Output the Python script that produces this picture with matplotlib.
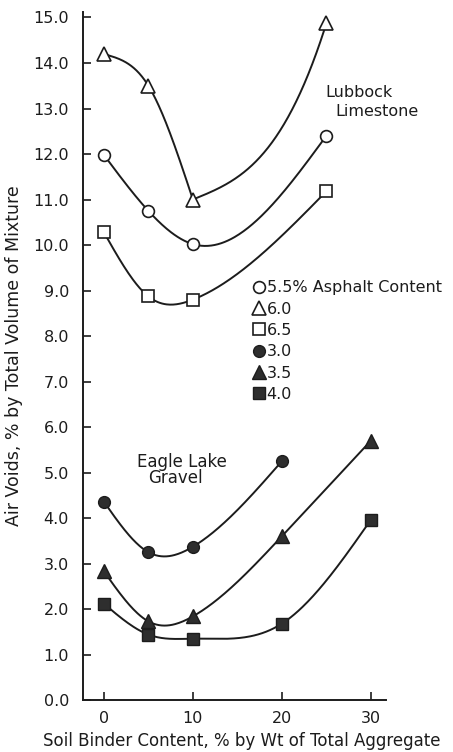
import numpy as np
import matplotlib
matplotlib.use("Agg")
import matplotlib.pyplot as plt

plt.rcParams["font.family"] = ["DejaVu Sans"]

# Soil binder content (% by weight of total aggregate)
lubbock_x = [0, 5, 10, 25]
eagle_x3 = [0, 5, 10, 20]
eagle_x = [0, 5, 10, 20, 30]

# Air voids (% by total volume of mixture)
lubbock_55 = [11.98, 10.75, 10.02, 12.4]
lubbock_60 = [14.2, 13.5, 11.0, 14.87]
lubbock_65 = [10.28, 8.87, 8.8, 11.18]
eagle_30 = [4.36, 3.25, 3.37, 5.25]
eagle_35 = [2.83, 1.73, 1.84, 3.6, 5.7]
eagle_40 = [2.12, 1.44, 1.35, 1.68, 3.96]

legend_labels = ["5.5% Asphalt Content", "6.0", "6.5", "3.0", "3.5", "4.0"]
x_ticks = [0, 10, 20, 30]
y_ticks = np.arange(0, 16, 1)

INK = "#1c1c1c"
FILL = "#2e2e2e"


def cubic_spline(xk, yk, d0=None, dn=None, num=200):
    """Natural (or end-clamped) cubic spline through the given points."""
    xk = np.asarray(xk, float)
    yk = np.asarray(yk, float)
    n = len(xk)
    h = np.diff(xk)
    A = np.zeros((n, n))
    r = np.zeros(n)
    for i in range(1, n - 1):
        A[i, i - 1] = h[i - 1]
        A[i, i] = 2 * (h[i - 1] + h[i])
        A[i, i + 1] = h[i]
        r[i] = 6 * ((yk[i + 1] - yk[i]) / h[i] - (yk[i] - yk[i - 1]) / h[i - 1])
    if d0 is None:
        A[0, 0] = 1.0
    else:
        A[0, 0] = 2 * h[0]
        A[0, 1] = h[0]
        r[0] = 6 * ((yk[1] - yk[0]) / h[0] - d0)
    if dn is None:
        A[-1, -1] = 1.0
    else:
        A[-1, -2] = h[-1]
        A[-1, -1] = 2 * h[-1]
        r[-1] = 6 * (dn - (yk[-1] - yk[-2]) / h[-1])
    M = np.linalg.solve(A, r)
    xs = np.linspace(xk[0], xk[-1], num)
    idx = np.clip(np.searchsorted(xk, xs) - 1, 0, n - 2)
    x0, x1 = xk[idx], xk[idx + 1]
    hh = x1 - x0
    ys = (M[idx] * (x1 - xs) ** 3 / (6 * hh)
          + M[idx + 1] * (xs - x0) ** 3 / (6 * hh)
          + (yk[idx] / hh - M[idx] * hh / 6) * (x1 - xs)
          + (yk[idx + 1] / hh - M[idx + 1] * hh / 6) * (xs - x0))
    return xs, ys


fig = plt.figure(figsize=(4.53, 7.52), dpi=100)
ax = fig.add_axes([0.183, 0.069, 0.669, 0.915])

line_kw = dict(color=INK, lw=1.4, zorder=2)

# Lubbock Limestone curves
ax.plot(*cubic_spline(lubbock_x, lubbock_55), **line_kw)
ax.plot(*cubic_spline(lubbock_x, lubbock_65), **line_kw)
# the 6.0% curve breaks at its minimum
ax.plot(*cubic_spline(lubbock_x[:3], lubbock_60[:3], d0=-0.06), **line_kw)
ax.plot(*cubic_spline(lubbock_x[2:], lubbock_60[2:], d0=0.08, dn=0.62), **line_kw)

# Eagle Lake Gravel curves
ax.plot(*cubic_spline(eagle_x3, eagle_30), **line_kw)
ax.plot(*cubic_spline(eagle_x, eagle_35), **line_kw)
ax.plot(*cubic_spline(eagle_x, eagle_40), **line_kw)

open_kw = dict(linestyle="none", mfc="white", mec=INK, mew=1.2, zorder=3)
fill_kw = dict(linestyle="none", mfc=FILL, mec=INK, mew=1.0, zorder=3)

h1, = ax.plot(lubbock_x, lubbock_55, marker="o", ms=8.5, **open_kw)
h2, = ax.plot(lubbock_x, lubbock_60, marker="^", ms=9.5, **open_kw)
h3, = ax.plot(lubbock_x, lubbock_65, marker="s", ms=8.0, **open_kw)
h4, = ax.plot(eagle_x3, eagle_30, marker="o", ms=8.5, **fill_kw)
h5, = ax.plot(eagle_x, eagle_35, marker="^", ms=9.5, **fill_kw)
h6, = ax.plot(eagle_x, eagle_40, marker="s", ms=8.0, **fill_kw)

leg = ax.legend([h1, h2, h3, h4, h5, h6], legend_labels,
                loc="upper left", bbox_to_anchor=(0.535, 0.622),
                frameon=False, handlelength=0.7, handletextpad=0.15,
                labelspacing=0.4, borderpad=0.0, fontsize=11.5,
                markerscale=1.0)
for t in leg.get_texts():
    t.set_color(INK)

# Aggregate labels
ax.text(24.9, 13.36, "Lubbock", fontsize=11.5, color=INK, va="center", ha="left")
ax.text(26.0, 12.93, "Limestone", fontsize=11.5, color=INK, va="center", ha="left")
ax.text(3.7, 5.24, "Eagle Lake", fontsize=12, color=INK, va="center", ha="left")
ax.text(5.0, 4.88, "Gravel", fontsize=12, color=INK, va="center", ha="left")

ax.set_xlim(-2.36, 31.7)
ax.set_ylim(0, 15.12)
ax.set_xticks(x_ticks)
ax.set_xticklabels([str(v) for v in x_ticks])
ax.set_yticks(y_ticks)
ax.set_yticklabels([f"{v:.1f}" for v in y_ticks])

ax.tick_params(direction="in", length=6, width=1.2, colors=INK,
               labelsize=11.5, pad=8)
ax.tick_params(axis="y", pad=10)
for side in ("top", "right"):
    ax.spines[side].set_visible(False)
for side in ("left", "bottom"):
    ax.spines[side].set_linewidth(1.4)
    ax.spines[side].set_color(INK)

ax.set_xlabel("Soil Binder Content, % by Wt of Total Aggregate",
              fontsize=12, color=INK)
ax.xaxis.set_label_coords(0.525, -0.046)
ax.set_ylabel("Air Voids, % by Total Volume of Mixture",
              fontsize=12.5, color=INK)
ax.yaxis.set_label_coords(-0.198, 0.5)

fig.savefig("out.png", dpi=100)
